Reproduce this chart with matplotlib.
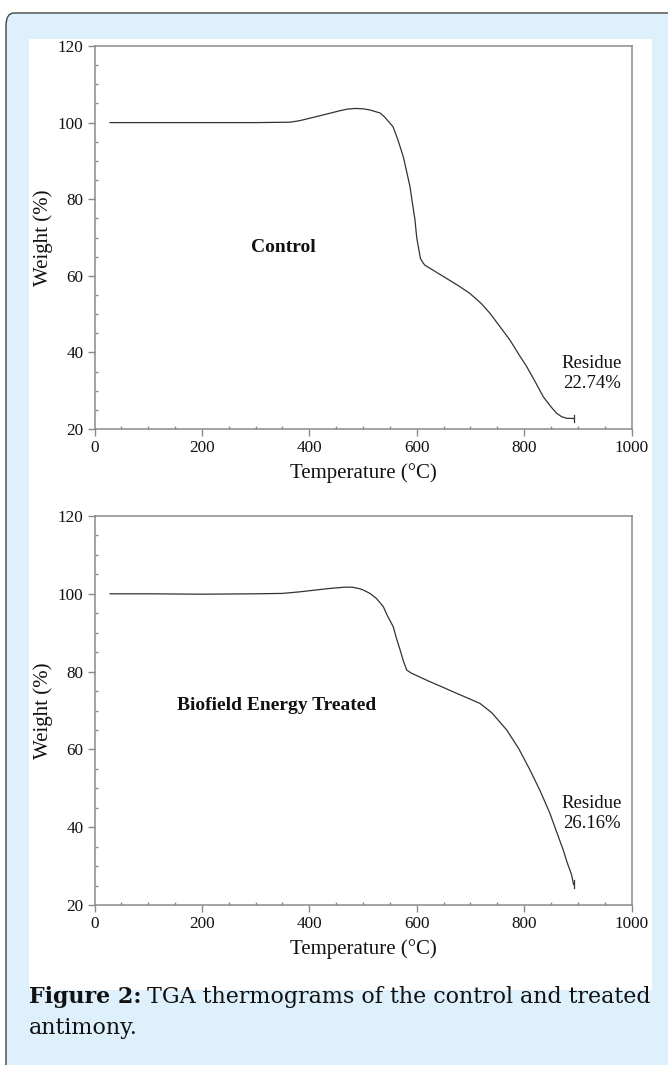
import matplotlib.pyplot as plt
from matplotlib.patches import FancyBboxPatch, Rectangle
from matplotlib.ticker import MultipleLocator

# TGA data (temperature in °C, weight in %)
control_temp = [29, 100, 200, 300, 364, 382, 420, 440, 457, 470, 485, 500, 513, 520, 532, 540,
                556, 565, 575, 580, 587.5, 592, 596.8, 600, 603, 607, 612.3, 615, 630, 655.8,
                680, 699, 720, 736.5, 760, 773.7, 790, 804.8, 820, 835.8, 850, 860.7, 870,
                879.3, 892]
control_weight = [100, 100, 100, 100, 100.1, 100.5, 101.8, 102.5, 103.1, 103.5, 103.7, 103.6,
                  103.3, 103.0, 102.5, 101.5, 98.9, 95.5, 91.1, 88, 83.3, 79, 74.6, 70, 67.6,
                  64.5, 63.3, 62.8, 61.5, 59.3, 57.2, 55.4, 52.8, 50.2, 45.8, 43.2, 39.5, 36.3,
                  32.5, 28.4, 25.8, 24.1, 23.2, 22.8, 22.74]

treated_temp = [29, 100, 200, 300, 350, 382, 420, 440, 466, 480, 494, 500, 513, 525, 537.8, 545,
                556.4, 562, 569, 575, 581.4, 590, 624.8, 650, 674.5, 700, 718, 740, 767.6, 790,
                811, 830, 848, 860, 873, 880, 888.6, 892]
treated_weight = [100, 100, 99.9, 100, 100.1, 100.5, 101.1, 101.4, 101.7, 101.7, 101.3, 101.0,
                  100.1, 98.8, 96.7, 94.5, 91.5, 88.7, 85.6, 82.8, 80.4, 79.6, 77.4, 75.9, 74.4,
                  72.9, 71.8, 69.4, 65, 60.2, 54.7, 49.3, 43.6, 39, 34.1, 31, 27.7, 25.3]

panel_labels = ['Control', 'Biofield Energy Treated']
residue_labels = ['Residue\n22.74%', 'Residue\n26.16%']

W, H = 668, 1065
fig = plt.figure(figsize=(W / 100, H / 100), dpi=100)
fig.patch.set_facecolor('white')


def fx(px):
    return px / W


def fy(py):
    return 1 - py / H


# light blue rounded box with the white panel inside
box = FancyBboxPatch((fx(6), fy(1100)), fx(700), (1100 - 13) / H,
                     boxstyle='round,pad=0,rounding_size=0.012',
                     transform=fig.transFigure, facecolor='#def0fb',
                     edgecolor='#444444', linewidth=1.0, zorder=0)
fig.patches.append(box)
fig.patches.append(Rectangle((fx(29), fy(990)), fx(652 - 29), (990 - 39) / H,
                             transform=fig.transFigure, facecolor='white',
                             edgecolor='none', zorder=1))

serif = 'Liberation Serif'
spine_col = '#8a8a8a'

axes_px = [(46, 429), (516, 905)]
series = [(control_temp, control_weight), (treated_temp, treated_weight)]
label_pos = [(351, 67.3), (340, 71.2)]
residue_pos = [(926, 34.5), (926, 43.6)]

for i, (top, bottom) in enumerate(axes_px):
    ax = fig.add_axes([fx(94.5), fy(bottom), fx(631.5 - 94.5), (bottom - top) / H])
    ax.set_zorder(2)
    ax.patch.set_alpha(0)
    temp, weight = series[i]
    ax.plot(temp, weight, color='#333333', lw=0.9)
    # small end marker of the curve
    ax.plot([temp[-1], temp[-1]], [weight[-1] - 1.0, weight[-1] + 1.0], color='#333333', lw=0.9)

    ax.set_xlim(0, 1000)
    ax.set_ylim(20, 120)
    ax.xaxis.set_major_locator(MultipleLocator(200))
    ax.xaxis.set_minor_locator(MultipleLocator(50))
    ax.yaxis.set_major_locator(MultipleLocator(20))
    ax.yaxis.set_minor_locator(MultipleLocator(5))
    for s in ax.spines.values():
        s.set_color(spine_col)
        s.set_linewidth(1.1)
    ax.tick_params(which='major', direction='out', length=5, width=1, color=spine_col,
                   labelsize=12.3, pad=3, labelcolor='#111111')
    ax.tick_params(which='minor', direction='in', length=2.5, width=1, color=spine_col)
    for t in ax.get_xticklabels() + ax.get_yticklabels():
        t.set_fontfamily(serif)

    ax.set_xlabel('Temperature (°C)', fontfamily=serif, fontsize=15, labelpad=5, color='#111111')
    ax.set_ylabel('Weight (%)', fontfamily=serif, fontsize=15, labelpad=3, color='#111111')

    lx, ly = label_pos[i]
    ax.text(lx, ly, panel_labels[i], fontfamily=serif, fontweight='bold', fontsize=14,
            ha='center', va='center', color='#111111')
    rx, ry = residue_pos[i]
    ax.text(rx, ry, residue_labels[i], fontfamily=serif, fontsize=13.5,
            ha='center', va='center', color='#111111', linespacing=1.25)

# caption: bold "Figure 2:" followed by normal text
cap_font = 'DejaVu Serif'
cap_size = 15.9
cap1 = fig.text(fx(29), fy(997), 'Figure 2:', fontfamily=cap_font, fontweight='bold',
                fontsize=cap_size, va='center', ha='left', color='#111111')
fig.canvas.draw()
bb = cap1.get_window_extent()
fig.text(bb.x1 / W + fx(6), fy(997), 'TGA thermograms of the control and treated',
         fontfamily=cap_font, fontsize=cap_size, va='center', ha='left', color='#111111')
fig.text(fx(29), fy(1028), 'antimony.', fontfamily=cap_font, fontsize=cap_size,
         va='center', ha='left', color='#111111')

fig.savefig('out.png', dpi=100)
